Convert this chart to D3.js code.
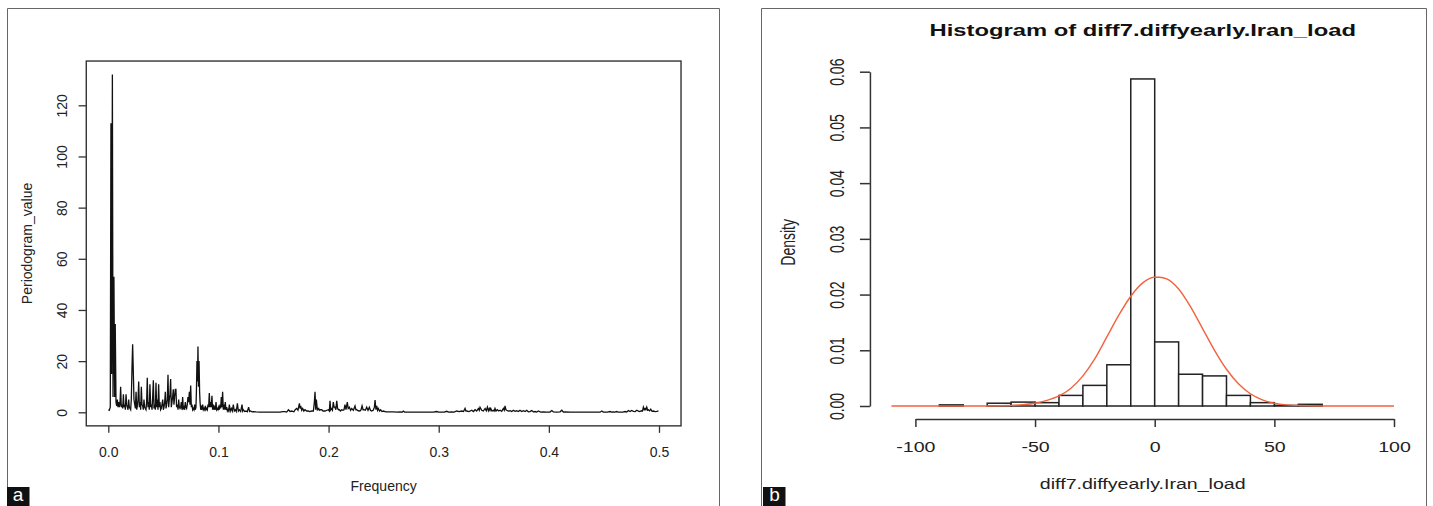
<!DOCTYPE html>
<html>
<head>
<meta charset="utf-8">
<script src="https://cdn.jsdelivr.net/npm/d3@7"></script>
<style>
  body { margin: 0; background: #fff; }
  svg text { font-family: "Liberation Sans", Arial, sans-serif; fill: #222; }
</style>
</head>
<body>
<div id="chart"></div>
<script>
// panel a: periodogram, [frequency, value]
var periodogram = [
  [0.0000,1],[0.0009,0.8],[0.0018,2],[0.0024,113],[0.0030,15],[0.0037,132],[0.0043,6],[0.0051,53],[0.0058,6],[0.0063,34.5],
  [0.0070,4],[0.0076,2.5],[0.0082,5],[0.0088,2],[0.0094,4],[0.0100,2],[0.0106,3],[0.0112,10],[0.0118,2],[0.0124,3],
  [0.0131,1.5],[0.0137,7],[0.0143,2],[0.0149,3],[0.0155,1],[0.0161,7],[0.0167,3],[0.0173,2],[0.0179,1],[0.0185,5],
  [0.0191,2],[0.0197,1.5],[0.0203,1],[0.0209,5],[0.0215,17],[0.0221,26.6],[0.0227,16],[0.0233,5],[0.0240,3],[0.0246,1.5],
  [0.0252,8],[0.0258,1],[0.0264,2.5],[0.0270,5],[0.0276,12],[0.0282,2],[0.0288,4],[0.0294,1],[0.0300,10],[0.0306,3],
  [0.0312,2.5],[0.0318,1],[0.0324,5],[0.0330,2],[0.0336,1.5],[0.0342,1],[0.0348,4],[0.0354,13.5],[0.0360,2],[0.0366,4],
  [0.0372,1],[0.0378,11],[0.0385,2],[0.0391,3],[0.0397,1],[0.0403,6],[0.0409,12.5],[0.0415,1.5],[0.0421,3],[0.0427,1],
  [0.0433,11.5],[0.0439,2],[0.0445,5],[0.0451,1],[0.0457,11],[0.0463,2],[0.0469,4],[0.0475,1],[0.0481,1.5],[0.0487,3],
  [0.0494,5],[0.0500,1],[0.0506,2],[0.0512,4],[0.0518,8],[0.0524,1.5],[0.0530,3],[0.0536,5],[0.0542,14.7],[0.0548,2],
  [0.0554,5],[0.0560,7],[0.0566,13],[0.0572,2],[0.0578,4],[0.0584,6],[0.0590,9],[0.0596,3],[0.0602,6],[0.0608,9],
  [0.0614,9],[0.0620,2],[0.0627,3],[0.0633,1],[0.0639,5],[0.0645,2],[0.0651,1.5],[0.0657,2],[0.0663,4],[0.0669,1],
  [0.0675,6],[0.0681,1.5],[0.0687,2],[0.0693,1],[0.0699,4],[0.0705,2],[0.0711,1.5],[0.0717,3],[0.0723,6],[0.0729,4],
  [0.0736,8],[0.0742,3],[0.0748,10.5],[0.0754,2],[0.0760,3],[0.0766,1],[0.0772,1.5],[0.0778,1],[0.0784,3],[0.0790,1],
  [0.0796,2],[0.0800,8],[0.0805,20],[0.0810,12],[0.0814,25.7],[0.0819,10],[0.0824,20],[0.0829,8],[0.0833,4],[0.0839,1],
  [0.0845,2],[0.0851,1],[0.0857,3],[0.0863,1],[0.0869,1.5],[0.0875,1],[0.0881,2.5],[0.0887,1],[0.0893,1.5],[0.0899,1],
  [0.0905,3],[0.0911,2],[0.0917,7.5],[0.0923,2],[0.0929,4],[0.0935,2],[0.0941,6.5],[0.0947,1],[0.0953,3],[0.0959,1],
  [0.0966,2],[0.0972,1],[0.0978,4],[0.0984,1],[0.0990,1.5],[0.0996,1],[0.1002,2],[0.1008,1],[0.1014,3],[0.1020,1.5],
  [0.1026,6],[0.1032,2],[0.1038,8],[0.1044,1],[0.1050,3],[0.1056,1],[0.1062,4],[0.1068,1],[0.1075,2],[0.1081,0.5],
  [0.1087,1],[0.1093,0.5],[0.1099,3],[0.1108,0.5],[0.1117,1.5],[0.1126,0.5],[0.1135,3],[0.1144,0.5],[0.1153,1],[0.1162,0.3],
  [0.1172,3.5],[0.1181,0.5],[0.1190,1],[0.1202,0.3],[0.1214,3],[0.1220,0.5],[0.1226,1],[0.1238,0.3],[0.1250,0.5],[0.1262,0.2],
  [0.1274,2],[0.1283,0.3],[0.1292,0.5],[0.1305,0.2],[0.1317,0.3],[0.1340,0.2],[0.1377,0.1],[0.1420,0.1],[0.1470,0.1],[0.1520,0.1],
  [0.1559,0.1],[0.1585,0.3],[0.1604,0.3],[0.1620,0.1],[0.1635,1],[0.1650,0.3],[0.1665,0.5],[0.1685,0.2],[0.1697,1],[0.1710,1.5],
  [0.1722,0.8],[0.1735,3.5],[0.1741,1.5],[0.1747,2.5],[0.1756,0.8],[0.1765,1.5],[0.1775,0.5],[0.1786,1],[0.1801,0.5],[0.1815,0.5],
  [0.1830,0.3],[0.1847,0.5],[0.1862,0.5],[0.1871,4],[0.1877,8],[0.1883,1],[0.1889,5],[0.1898,1],[0.1910,1.5],[0.1916,0.8],
  [0.1925,1],[0.1937,1],[0.1950,0.5],[0.1968,0.5],[0.1985,0.8],[0.1998,1],[0.2007,0.5],[0.2013,4.5],[0.2019,1],[0.2025,1.5],
  [0.2035,0.8],[0.2043,4],[0.2050,2],[0.2058,2],[0.2066,1],[0.2074,4.5],[0.2082,1.5],[0.2090,1],[0.2098,1],[0.2108,0.5],
  [0.2119,1],[0.2130,0.8],[0.2140,1],[0.2149,3],[0.2158,1],[0.2170,4],[0.2178,1.5],[0.2189,2],[0.2200,0.8],[0.2210,1.5],
  [0.2225,0.8],[0.2240,2.5],[0.2248,1],[0.2255,1],[0.2270,0.6],[0.2285,0.5],[0.2295,1],[0.2304,2.5],[0.2313,1],[0.2322,1],
  [0.2334,0.8],[0.2346,2],[0.2358,0.8],[0.2370,2],[0.2380,0.8],[0.2391,0.5],[0.2405,0.8],[0.2416,2],[0.2422,4.8],[0.2430,1],
  [0.2437,2.5],[0.2445,0.8],[0.2452,1.5],[0.2463,0.5],[0.2473,1],[0.2485,0.3],[0.2497,0.5],[0.2520,0.2],[0.2550,0.2],[0.2588,0.2],
  [0.2620,0.1],[0.2650,0.2],[0.2670,0.1],[0.2679,0.5],[0.2690,0.1],[0.2709,0.1],[0.2760,0.1],[0.2830,0.1],[0.2900,0.1],[0.2951,0.1],
  [0.2982,0.3],[0.3000,0.1],[0.3027,0.1],[0.3050,0.1],[0.3073,0.4],[0.3090,0.1],[0.3118,0.2],[0.3140,0.1],[0.3163,0.5],[0.3185,0.3],
  [0.3209,0.5],[0.3225,0.3],[0.3239,1.5],[0.3247,0.5],[0.3254,0.5],[0.3275,0.3],[0.3300,0.8],[0.3315,0.3],[0.3330,1],[0.3345,0.5],
  [0.3360,1.5],[0.3368,0.8],[0.3375,2],[0.3390,0.8],[0.3405,0.5],[0.3421,1.5],[0.3432,0.6],[0.3442,2],[0.3451,0.6],[0.3460,1.5],
  [0.3466,0.8],[0.3472,1.5],[0.3484,0.5],[0.3496,0.8],[0.3503,0.5],[0.3511,1.5],[0.3520,0.5],[0.3532,1],[0.3545,0.5],[0.3557,0.8],
  [0.3572,0.4],[0.3587,1.5],[0.3595,0.8],[0.3602,2.5],[0.3610,1],[0.3617,0.8],[0.3632,0.5],[0.3648,0.6],[0.3663,0.3],[0.3678,0.8],
  [0.3693,0.4],[0.3708,0.6],[0.3723,0.3],[0.3738,0.8],[0.3754,0.3],[0.3769,0.6],[0.3784,0.3],[0.3799,0.8],[0.3814,0.2],[0.3829,0.3],
  [0.3844,0.7],[0.3860,0.2],[0.3875,0.3],[0.3890,0.1],[0.3905,0.5],[0.3925,0.1],[0.3950,0.2],[0.3980,0.1],[0.4010,0.1],[0.4026,0.7],
  [0.4041,0.2],[0.4070,0.1],[0.4102,0.2],[0.4117,0.8],[0.4132,0.1],[0.4147,0.2],[0.4193,0.1],[0.4240,0.05],[0.4283,0.05],[0.4330,0.05],
  [0.4374,0.05],[0.4420,0.05],[0.4465,0.05],[0.4480,0.5],[0.4495,0.1],[0.4510,0.1],[0.4530,0.1],[0.4556,0.3],[0.4570,0.1],[0.4586,0.2],
  [0.4600,0.1],[0.4616,0.3],[0.4630,0.1],[0.4647,0.1],[0.4670,0.1],[0.4692,0.3],[0.4707,0.1],[0.4722,0.7],[0.4737,0.3],[0.4752,0.7],
  [0.4768,0.4],[0.4783,0.3],[0.4798,0.8],[0.4820,0.3],[0.4843,0.6],[0.4850,0.5],[0.4858,2],[0.4866,1],[0.4874,1.5],[0.4881,1],
  [0.4889,2],[0.4897,0.8],[0.4904,1],[0.4915,0.6],[0.4925,1.2],[0.4937,0.4],[0.4949,0.5],[0.4965,0.3],[0.4980,0.4],[0.4995,0.6]
]
var freqTicks = [0, 0.1, 0.2, 0.3, 0.4, 0.5]
var pgramTicks = [0, 20, 40, 60, 80, 100, 120]

// panel b: histogram (density), bins of width 10
var binStarts  = [-90, -80, -70, -60, -50, -40, -30, -20, -10, 0, 10, 20, 30, 40, 50, 60]
var binDensity = [0.0002, 0, 0.0005, 0.0007, 0.0006, 0.0019, 0.0037, 0.0074, 0.0587, 0.0115, 0.0057, 0.0054, 0.0019, 0.0006, 0.0001, 0.0003]
var binWidth = 10
// red density curve
var normalCurve = [
  [-110,0],[-80,0],[-70,0.00001],[-60,0.0001],[-55,0.00025],[-50,0.0005],[-45,0.001],[-40,0.0018],[-35,0.0032],
  [-30,0.0054],[-25,0.0085],[-20,0.0124],[-15,0.0163],[-10,0.0197],[-5,0.0221],[0,0.0231],[2,0.0231],[5,0.0228],
  [10,0.021],[15,0.0178],[20,0.0139],[25,0.01],[30,0.0066],[35,0.004],[40,0.0022],[45,0.0011],[50,0.0005],
  [55,0.0002],[60,0.0001],[70,0.00001],[80,0],[100,0]
]
var loadTicks = [-100, -50, 0, 50, 100]
var densityTicks = [0, 0.01, 0.02, 0.03, 0.04, 0.05, 0.06]

var svg = d3.select('#chart').append('svg')
  .attr('width', 1433).attr('height', 506)
  .style('background', '#fff')

// outer frames of the two panels
svg.append('path').attr('d', 'M7.5,506V8.5H719.5V506')
  .attr('fill', 'none').attr('stroke', '#666').attr('stroke-width', 1)
svg.append('path').attr('d', 'M761.5,506V8.5H1426.5V506')
  .attr('fill', 'none').attr('stroke', '#666').attr('stroke-width', 1)

// ---------- panel a ----------
var xa = d3.scaleLinear().domain([0, 0.5]).range([108.3, 659])
var ya = d3.scaleLinear().domain([0, 120]).range([412.3, 105.3])

var ga = svg.append('g')

ga.append('rect')
  .attr('x', xa(-0.02)).attr('y', ya(137.3))
  .attr('width', xa(0.52) - xa(-0.02)).attr('height', ya(-5.3) - ya(137.3))
  .attr('fill', 'none').attr('stroke', '#333').attr('stroke-width', 1.4)

ga.append('path')
  .datum(periodogram)
  .attr('d', d3.line().x(d => xa(d[0])).y(d => ya(d[1])))
  .attr('fill', 'none').attr('stroke', '#111').attr('stroke-width', 1.3)
  .attr('stroke-linejoin', 'miter')

var axa = ga.append('g')
  .attr('transform', 'translate(0,' + ya(-5.3) + ')')
  .call(d3.axisBottom(xa).tickValues(freqTicks).tickFormat(d3.format('.1f')).tickSize(7).tickPadding(14))
axa.select('.domain').remove()
axa.attr('font-size', 14).attr('font-family', null).attr('color', '#333')
axa.selectAll('line').attr('stroke-width', 1.3)

var aya = ga.append('g')
  .attr('transform', 'translate(' + xa(-0.02) + ',0)')
  .call(d3.axisLeft(ya).tickValues(pgramTicks).tickFormat(d3.format('d')).tickSize(7.7))
aya.select('.domain').remove()
aya.attr('font-size', 14).attr('font-family', null).attr('color', '#333')
aya.selectAll('line').attr('stroke-width', 1.3)
aya.selectAll('text')
  .attr('x', null).attr('dy', null).attr('text-anchor', 'middle')
  .attr('transform', 'translate(-19.5,0) rotate(-90)')

ga.append('text').text('Frequency')
  .attr('x', (xa(-0.02) + xa(0.52)) / 2).attr('y', 491)
  .attr('text-anchor', 'middle').attr('font-size', 14)

ga.append('text').text('Periodogram_value')
  .attr('transform', 'translate(31.5,' + (ya(-5.3) + ya(137.3)) / 2 + ') rotate(-90)')
  .attr('text-anchor', 'middle').attr('font-size', 14)

// ---------- panel b ----------
var sx = 1.4  // the right panel is stretched sideways in the source
var xb = d3.scaleLinear().domain([-100, 100]).range([915.4, 1394])
var yb = d3.scaleLinear().domain([0, 0.06]).range([406, 71.7])

var gb = svg.append('g')

gb.selectAll('rect.bar')
  .data(binStarts)
  .join('rect').attr('class', 'bar')
  .attr('x', d => xb(d))
  .attr('width', d => xb(d + binWidth) - xb(d))
  .attr('y', (d, i) => yb(binDensity[i]))
  .attr('height', (d, i) => yb(0) - yb(binDensity[i]))
  .attr('fill', '#fff').attr('stroke', '#222').attr('stroke-width', 1.5)

gb.append('path')
  .datum(normalCurve)
  .attr('d', d3.line().x(d => xb(d[0])).y(d => yb(d[1])).curve(d3.curveMonotoneX))
  .attr('fill', 'none').attr('stroke', '#f2623f').attr('stroke-width', 1.4)

var axb = gb.append('g')
  .attr('transform', 'translate(0,' + yb(-0.00235) + ')')
  .call(d3.axisBottom(xb).tickValues(loadTicks).tickFormat(d => String(d))
    .tickSize(8).tickSizeOuter(0).tickPadding(14.7))
axb.attr('font-size', 14).attr('font-family', null).attr('color', '#333')
axb.selectAll('line, path').attr('stroke-width', 1.5)
axb.selectAll('text').attr('transform', 'scale(' + sx + ',1)')

var ayb = gb.append('g')
  .attr('transform', 'translate(' + xb(-119) + ',0)')
  .call(d3.axisLeft(yb).tickValues(densityTicks).tickFormat(d3.format('.2f')).tickSize(10).tickSizeOuter(0))
ayb.attr('font-size', 14).attr('font-family', null).attr('color', '#333')
ayb.selectAll('line, path').attr('stroke-width', 1.5)
ayb.selectAll('text')
  .attr('x', null).attr('dy', null).attr('text-anchor', 'middle')
  .attr('transform', 'translate(-26,0) scale(' + sx + ',1) rotate(-90)')

var midB = (xb(-118.4) + xb(108.4)) / 2

gb.append('text').text('Histogram of diff7.diffyearly.Iran_load')
  .attr('transform', 'translate(' + midB + ',36) scale(' + sx + ',1)')
  .attr('text-anchor', 'middle').attr('font-size', 17).attr('font-weight', 'bold')
  .style('fill', '#111')

gb.append('text').text('diff7.diffyearly.Iran_load')
  .attr('transform', 'translate(' + midB + ',489) scale(' + sx + ',1)')
  .attr('text-anchor', 'middle').attr('font-size', 14)

gb.append('text').text('Density')
  .attr('transform', 'translate(795,' + (yb(-0.00235) + yb(0.0611)) / 2 + ') scale(' + sx + ',1) rotate(-90)')
  .attr('text-anchor', 'middle').attr('font-size', 14)

// ---------- panel letters ----------
var letters = [{t: 'a', x: 7, cx: 18}, {t: 'b', x: 763, cx: 774.5}]
svg.selectAll('rect.letter').data(letters).join('rect').attr('class', 'letter')
  .attr('x', d => d.x).attr('y', 487).attr('width', 22.5).attr('height', 19)
  .attr('fill', '#111')
svg.selectAll('text.letter').data(letters).join('text').attr('class', 'letter')
  .attr('x', d => d.cx).attr('y', 501)
  .attr('text-anchor', 'middle').attr('font-size', 19)
  .style('fill', '#fff')
  .text(d => d.t)
</script>
</body>
</html>
